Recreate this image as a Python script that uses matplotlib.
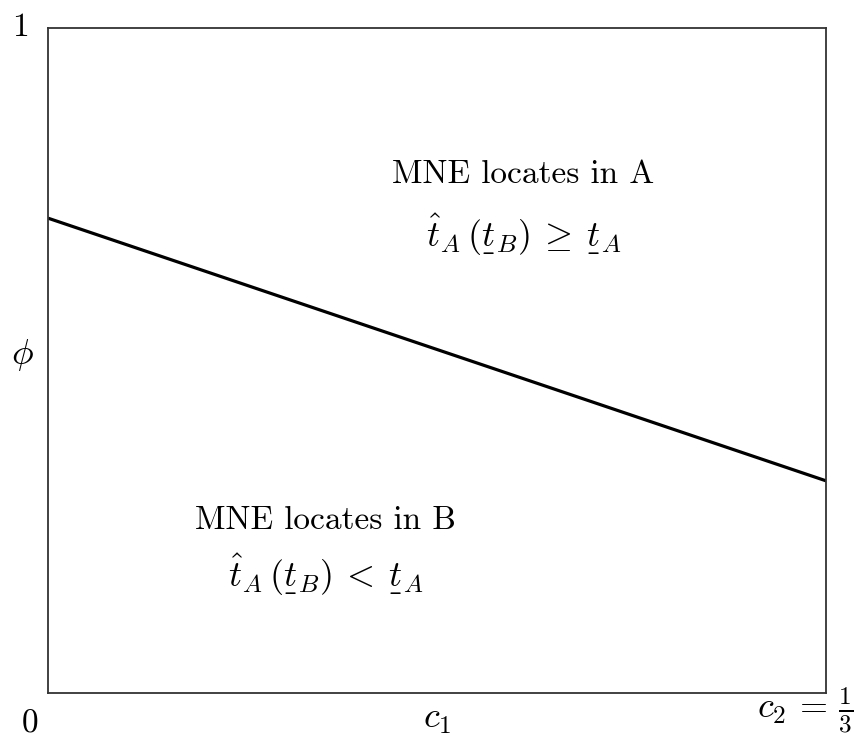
import matplotlib
matplotlib.use("Agg")
import matplotlib.pyplot as plt

plt.rcParams['font.family'] = 'serif'
plt.rcParams['font.serif'] = ['cmr10']
plt.rcParams['mathtext.fontset'] = 'cm'
plt.rcParams['axes.formatter.use_mathtext'] = True
plt.rcParams['axes.unicode_minus'] = False

# boundary between the two regions (c from 0 to c2 = 1/3)
c_vals = [0.0, 1.0 / 3.0]
phi_vals = [0.714, 0.319]

region_titles = ["MNE locates in A", "MNE locates in B"]
region_conds = [r"$\hat{t}_A\,(\underset{\_}{t}_B)\:\geq\:\underset{\_}{t}_A$",
                r"$\hat{t}_A\,(\underset{\_}{t}_B)\:<\:\underset{\_}{t}_A$"]

fig = plt.figure(figsize=(8.57, 7.39), dpi=100)
ax = fig.add_axes([0.056, 0.0622, 0.908, 0.9])

ax.plot(c_vals, phi_vals, color='black', lw=2.3, solid_capstyle='butt')
ax.set_xlim(0, 1.0 / 3.0)
ax.set_ylim(0, 1)
ax.set_xticks([])
ax.set_yticks([])
for s in ax.spines.values():
    s.set_linewidth(1.3)
    s.set_color('#333333')

fs = 24
fm = 26
ax.text(0.611, 0.779, region_titles[0], transform=ax.transAxes, ha='center', va='center', fontsize=fs)
ax.text(0.611, 0.689, region_conds[0], transform=ax.transAxes, ha='center', va='center', fontsize=fm)
ax.text(0.357, 0.259, region_titles[1], transform=ax.transAxes, ha='center', va='center', fontsize=fs)
ax.text(0.357, 0.177, region_conds[1], transform=ax.transAxes, ha='center', va='center', fontsize=fm)

# axis labels placed by hand around the frame
fig.text(20 / 857, 1 - 27 / 739, "1", ha='center', va='center', fontsize=fs)
fig.text(30 / 857, 1 - 724 / 739, "0", ha='center', va='center', fontsize=fs)
fig.text(22 / 857, 1 - 355 / 739, r"$\phi$", ha='center', va='center', fontsize=fm)
fig.text(437 / 857, 1 - 720 / 739, r"$c_1$", ha='center', va='center', fontsize=fm)
fig.text(853 / 857, 3 / 739, r"$c_2\,=\,\frac{1}{3}$", ha='right', va='bottom', fontsize=fm)

fig.savefig("out.png", dpi=100)
